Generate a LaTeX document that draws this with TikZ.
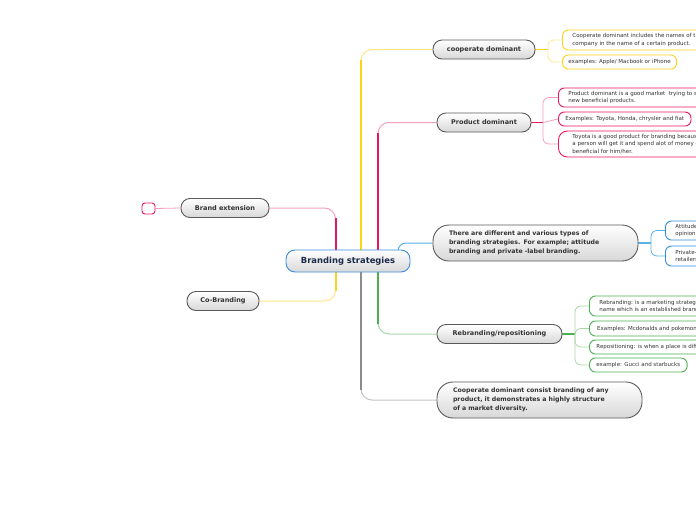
\documentclass[tikz,border=0pt]{standalone}
\usepackage{fontspec}
\setmainfont{DejaVu Sans}
\usetikzlibrary{calc,backgrounds}
\definecolor{yel}{HTML}{FFD21A}
\definecolor{yelL}{HTML}{FFE78A}
\definecolor{pnk}{HTML}{E8175D}
\definecolor{pnkL}{HTML}{F5A0C0}
\definecolor{blu}{HTML}{5AB0E8}
\definecolor{bluD}{HTML}{2F8FE0}
\definecolor{grn}{HTML}{4CAF50}
\definecolor{grnL}{HTML}{A8D8A8}
\definecolor{gry}{HTML}{8C8C8C}
\definecolor{gryL}{HTML}{C4C4C4}
\definecolor{mainborder}{HTML}{5A5A5A}
\definecolor{shadeg}{HTML}{D8D8D8}
\definecolor{textg}{HTML}{333333}
\definecolor{rootblue}{HTML}{3B8ED8}
\definecolor{navy}{HTML}{1B2A4A}
\begin{document}
\begin{tikzpicture}[x=1pt,y=-1pt,
  mainbox/.style={draw=mainborder, line width=0.9pt, rounded corners=9pt,
    top color=white, bottom color=shadeg, text=textg,
    font=\bfseries\fontsize{6.5}{8}\selectfont, minimum height=19pt,
    inner xsep=0pt, inner ysep=0pt},
  textbox/.style={mainbox, rounded corners=16pt, align=left,
    font=\bfseries\fontsize{6.2}{9}\selectfont, inner xsep=16pt,
    text width=173pt, minimum height=36pt},
  leaf/.style={draw=#1, fill=white, line width=0.9pt, rounded corners=6pt,
    anchor=west, align=left, font=\fontsize{5.5}{7.4}\selectfont,
    text=textg, inner ysep=2pt, inner xsep=7pt},
  trunkthin/.style={line width=1pt, rounded corners=11pt},
  trunkthick/.style={line width=2pt},
  leafline/.style={line width=0.8pt, rounded corners=6pt}
]
\useasboundingbox (0,0) rectangle (696,520);

% root
\node[draw=rootblue, line width=0.9pt, rounded corners=9pt, top color=white,
  bottom color=shadeg, text=navy, font=\bfseries\fontsize{8.4}{10}\selectfont,
  minimum width=124pt, minimum height=22pt, inner sep=0pt] (root) at (348,261) {Branding strategies};

% main branches
\node[mainbox, minimum width=102pt] (coop) at (484,49.5) {cooperate dominant};
\node[mainbox, minimum width=94pt] (pd) at (484,122.5) {Product dominant};
\node[textbox] (diff) at (535.5,243) {There are different and various types of\\branding strategies. For example; attitude\\branding and private -label branding.};
\node[mainbox, minimum width=125pt] (rb) at (499.5,334) {Rebranding/repositioning};
\node[textbox] (cdc) at (539.5,400) {Cooperate dominant consist branding of any\\product, it demonstrates a highly structure\\of a market diversity.};
\node[mainbox, minimum width=88pt] (bext) at (225,208) {Brand extension};
\node[mainbox, minimum width=72pt] (cob) at (223,301) {Co-Branding};
\node[draw=pnk, fill=white, line width=0.9pt, rounded corners=3pt,
  minimum width=13pt, minimum height=11pt, inner sep=0pt] (empty) at (148.5,208.5) {};

% leaves
\node[leaf=yel, minimum height=20pt, inner xsep=10pt] (y1) at (562,40) {Cooperate dominant includes the names of the\\company in the name of a certain product.};
\node[leaf=yel, minimum height=14pt, inner xsep=6pt] (y2) at (562,62) {examples: Apple/ Macbook or iPhone};
\node[leaf=pnk, minimum height=19pt, inner xsep=10pt] (p1) at (558,97.5) {Product dominant is a good market\ \ trying to sell\\new beneficial products.};
\node[leaf=pnk, minimum height=14pt, inner xsep=7pt] (p2) at (558,119) {Examples: Toyota, Honda, chrysler and fiat};
\node[leaf=pnk, minimum height=26pt, inner xsep=14pt, rounded corners=9pt] (p3) at (558,144) {Toyota is a good product for branding because\\a person will get it and spend alot of money on\\beneficial for him/her.};
\node[leaf=bluD, minimum height=19pt, inner xsep=10pt] (b1) at (665,230.5) {Attitude branding\\opinion};
\node[leaf=bluD, minimum height=20pt, inner xsep=10pt] (b2) at (665,256) {Private-label\\retailers};
\node[leaf=grn, minimum height=20pt, inner xsep=10pt] (g1) at (589,306) {Rebranding: is a marketing strategy\\name which is an established brand};
\node[leaf=grn, minimum height=15pt, inner xsep=7pt, minimum width=115pt] (g2) at (589,328.5) {Examples: Mcdonalds and pokemon};
\node[leaf=grn, minimum height=14pt, inner xsep=7pt] (g3) at (589,347) {Repositioning: is when a place is different};
\node[leaf=grn, minimum height=14pt, inner xsep=7pt] (g4) at (589,365) {example: Gucci and starbucks};

% connectors
\coordinate (yT) at (361,261);
\coordinate (pT) at (378,261);
\coordinate (bT) at (398,253);
\coordinate (gT) at (378,261);
\coordinate (grT) at (361,261);
\coordinate (lpT) at (335.5,261);
\coordinate (lyT) at (335.5,261);
\coordinate (yb) at (548,49.5);
\coordinate (pb) at (543,122.5);
\coordinate (bb) at (651,243);
\coordinate (gb) at (575,334);

\begin{pgfonlayer}{background}
\fill[white] (0,0) rectangle (696,520);
% trunks
\draw[yelL, trunkthin] (yT) |- (coop.west);
\draw[yel, trunkthick] (yT) -- ($(yT|-coop.west)!10pt!(yT)$);
\draw[pnkL, trunkthin] (pT) |- (pd.west);
\draw[pnk, trunkthick] (pT) -- ($(pT|-pd.west)!10pt!(pT)$);
\draw[blu, line width=1pt, rounded corners=8pt] (bT) |- (diff.west);
\draw[grnL, trunkthin] (gT) |- (rb.west);
\draw[grn, trunkthick] (gT) -- ($(gT|-rb.west)!10pt!(gT)$);
\draw[gryL, trunkthin] (grT) |- (cdc.west);
\draw[gry, trunkthick] (grT) -- ($(grT|-cdc.west)!10pt!(grT)$);
\draw[pnkL, trunkthin] (lpT) |- (bext.east);
\draw[pnk, trunkthick] (lpT) -- ($(lpT|-bext.east)!10pt!(lpT)$);
\draw[yelL, trunkthin] (lyT) |- (cob.east);
\draw[yel, trunkthick] (lyT) -- ($(lyT|-cob.east)!10pt!(lyT)$);
\draw[pnkL, line width=0.8pt] (bext.west) -- (empty.east);
% leaf brackets
\draw[yel, line width=1.2pt] (coop.east) -- (yb);
\draw[yelL, leafline] (yb) |- (y1.west);
\draw[yelL, leafline] (yb) |- (y2.west);
\draw[pnk, line width=1.2pt] (pd.east) -- (pb);
\draw[pnkL, leafline] (pb) |- (p1.west);
\draw[pnkL, leafline] (pb) -- (p2.west);
\draw[pnkL, leafline] (pb) |- (p3.west);
\draw[blu, line width=1.2pt] (diff.east) -- (bb);
\draw[blu, leafline] (bb) |- (b1.west);
\draw[blu, leafline] (bb) |- (b2.west);
\draw[grn, line width=1.2pt] (rb.east) -- (gb);
\draw[grnL, leafline] (gb) |- (g1.west);
\draw[grnL, leafline] (gb) |- (g2.west);
\draw[grnL, leafline] (gb) |- (g3.west);
\draw[grnL, leafline] (gb) |- (g4.west);
\end{pgfonlayer}
\end{tikzpicture}
\end{document}
